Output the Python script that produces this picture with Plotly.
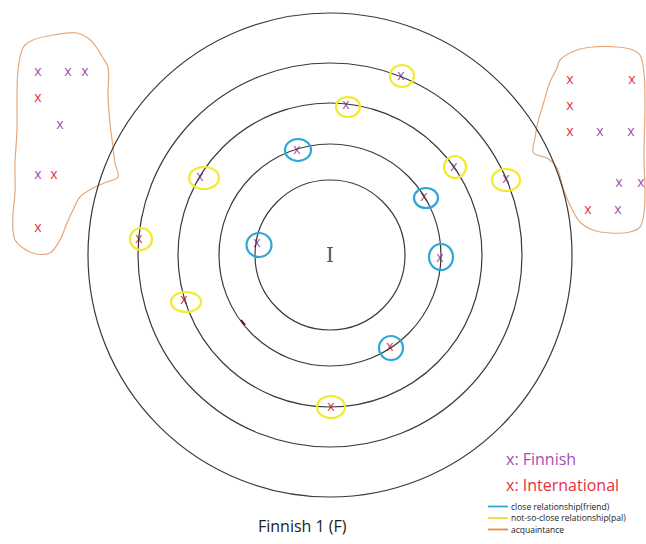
import plotly.graph_objects as go

# Geometry of the rings (pixel space of the drawing)
center = (330, 255)
ring_radii = [75, 111, 152, 192, 242]

# People placed on the rings
ring_x = [297, 257, 424, 440, 390, 401, 346, 454, 506, 200, 139, 184, 331]
ring_y = [150, 243, 197, 258, 347, 76, 105, 167, 179, 177, 239, 300, 407]
ring_kind = ["F", "F", "F", "F", "I", "F", "F", "F", "F", "F", "I", "I", "I"]
ring_rel = ["friend", "friend", "friend", "friend", "friend",
            "pal", "pal", "pal", "pal", "pal", "pal", "pal", "pal"]
# highlight ellipses (centres and sizes)
hl_x = [298, 259, 426, 441, 391, 402, 348, 455, 506, 204, 141, 186, 331]
hl_y = [150, 245, 198, 257, 348, 76, 107, 167, 180, 178, 239, 302, 407]
hl_w = [26, 25, 24, 24, 24, 24, 24, 22, 28, 30, 22, 30, 28]
hl_h = [22, 24, 20, 26, 24, 22, 20, 22, 22, 22, 22, 20, 22]

# Acquaintances (inside the orange blobs)
acq_x = [38, 68, 85, 38, 60, 38, 54, 38,
         570, 632, 570, 570, 600, 631, 619, 641, 588, 618]
acq_y = [72, 72, 72, 98, 125, 175, 175, 228,
         80, 80, 106, 132, 132, 132, 183, 183, 210, 210]
acq_kind = ["F", "F", "F", "I", "F", "F", "I", "I",
            "I", "I", "I", "I", "F", "F", "F", "F", "I", "F"]

left_blob_x = [25, 33, 53, 77, 88, 97, 103, 108, 108, 110, 113, 115, 118, 107, 93, 80,
               73, 67, 60, 50, 37, 23, 15, 13, 13, 15, 15, 17, 17, 18, 22, 25]
left_blob_y = [45, 40, 35, 33, 38, 48, 58, 67, 97, 123, 147, 163, 177, 182, 188, 197,
               210, 223, 240, 253, 254, 248, 240, 230, 213, 193, 163, 130, 97, 70, 50, 45]
right_blob_x = [560, 577, 593, 617, 633, 640, 644, 645, 644, 645, 644, 640, 630, 610, 593,
                580, 570, 563, 557, 547, 537, 533, 535, 538, 543, 550, 557, 560]
right_blob_y = [60, 50, 47, 47, 50, 55, 73, 107, 157, 193, 213, 227, 232, 233, 230,
                222, 205, 188, 168, 158, 155, 152, 138, 122, 105, 82, 68, 60]

kind_color = {"F": "#A64DB5", "I": "#E8303C"}
rel_color = {"friend": "#2EA6D6", "pal": "#F2EA2E"}
acq_color = "#E6A87A"

legend_items = ["close relationship(friend)", "not-so-close relationship(pal)", "acquaintance"]
legend_colors = ["#2EA6D6", "#F2D92E", "#F08A3C"]
legend_y = [506, 517.5, 529]

fig = go.Figure()
shapes = []
cx, cy = center
for r in ring_radii:
    shapes.append(dict(type="circle", xref="x", yref="y", x0=cx - r, x1=cx + r,
                       y0=cy - r, y1=cy + r, line=dict(color="#3a3a3a", width=1.2)))
for x, y, w, h, rel in zip(hl_x, hl_y, hl_w, hl_h, ring_rel):
    shapes.append(dict(type="circle", xref="x", yref="y", x0=x - w / 2, x1=x + w / 2,
                       y0=y - h / 2, y1=y + h / 2, line=dict(color=rel_color[rel], width=2.2)))
# small stray mark
shapes.append(dict(type="line", xref="x", yref="y", x0=241, y0=320, x1=245, y1=325,
                   line=dict(color="#4a1a10", width=2)))
for c, y in zip(legend_colors, legend_y):
    shapes.append(dict(type="line", xref="x", yref="y", x0=488, x1=508, y0=y + 0.5, y1=y + 0.5,
                       line=dict(color=c, width=1.8)))
fig.update_layout(shapes=shapes)

fig.add_trace(go.Scatter(x=left_blob_x, y=left_blob_y, mode="lines",
                         line=dict(color=acq_color, width=1.2, shape="spline"),
                         hoverinfo="skip", showlegend=False))
fig.add_trace(go.Scatter(x=right_blob_x, y=right_blob_y, mode="lines",
                         line=dict(color=acq_color, width=1.2, shape="spline"),
                         hoverinfo="skip", showlegend=False))

fig.add_trace(go.Scatter(x=ring_x, y=ring_y, mode="text", text=["x"] * len(ring_x),
                         textfont=dict(family="Open Sans", size=14,
                                       color=[kind_color[k] for k in ring_kind]),
                         textposition="middle center", showlegend=False, cliponaxis=False))
fig.add_trace(go.Scatter(x=acq_x, y=acq_y, mode="text", text=["x"] * len(acq_x),
                         textfont=dict(family="Open Sans", size=14,
                                       color=[kind_color[k] for k in acq_kind]),
                         textposition="middle center", showlegend=False, cliponaxis=False))

annotations = [
    dict(x=cx, y=cy, text="I", showarrow=False, xref="x", yref="y",
         font=dict(family="DejaVu Serif", size=20, color="#555555")),
    dict(x=504, y=459, text="x: Finnish", showarrow=False, xref="x", yref="y", xanchor="left",
         font=dict(family="Open Sans", size=16, color="#A64DB5")),
    dict(x=504, y=485, text="x: International", showarrow=False, xref="x", yref="y",
         xanchor="left", font=dict(family="Open Sans", size=16, color="#E8303C")),
    dict(x=302, y=526, text="Finnish 1 (F)", showarrow=False, xref="x", yref="y",
         font=dict(family="Open Sans", size=16, color="#222222")),
]
for t, y in zip(legend_items, legend_y):
    annotations.append(dict(x=510, y=y, text=t, showarrow=False, xref="x", yref="y",
                            xanchor="left", borderpad=0,
                            font=dict(family="Open Sans", size=8.5, color="#222222")))
fig.update_layout(annotations=annotations)

fig.update_layout(width=646, height=544, margin=dict(l=0, r=0, t=0, b=0),
                  paper_bgcolor="white", plot_bgcolor="white",
                  xaxis=dict(range=[0, 646], visible=False, fixedrange=True),
                  yaxis=dict(range=[544, 0], visible=False, fixedrange=True),
                  showlegend=False)
fig.write_html("out.html", config={"displayModeBar": False},
               post_script="document.body.style.margin='0';document.body.style.overflow='hidden';")
